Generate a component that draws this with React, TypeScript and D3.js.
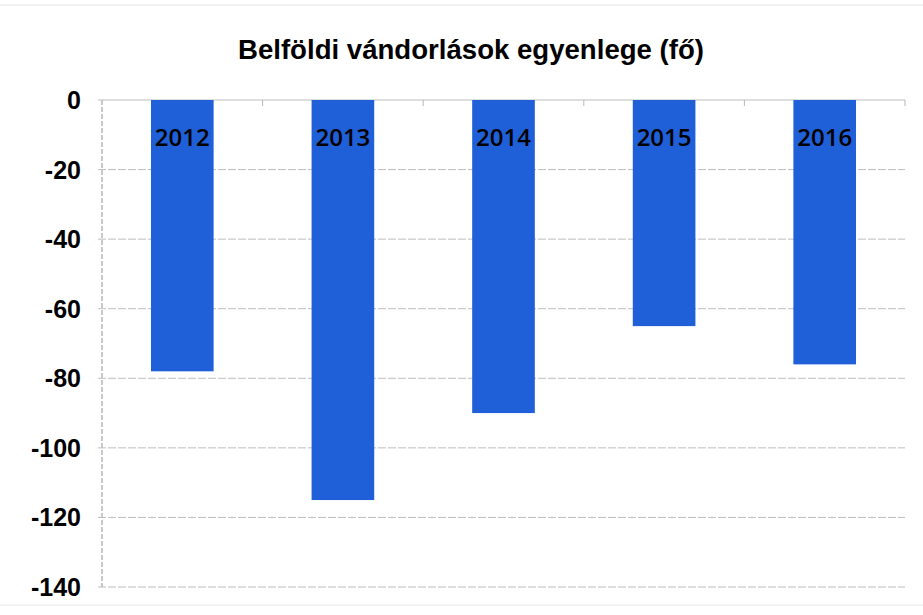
import React from "react";
import * as d3 from "d3";

const categories = ["2012", "2013", "2014", "2015", "2016"];
const values = [-78, -115, -90, -65, -76];
const yTicks = [0, -20, -40, -60, -80, -100, -120, -140];
const title = "Belföldi vándorlások egyenlege (fő)";

export default function App() {
  const W = 923, H = 615;
  const left = 102, right = 905, top = 100, bottom = 587;
  const x = d3.scaleBand<string>().domain(categories).range([left, right]).paddingInner(0.61).paddingOuter(0.305);
  const y = d3.scaleLinear().domain([0, -140]).range([top, bottom]);
  const step = x.step();
  const font = "'Open Sans', 'Liberation Sans', sans-serif";
  return (
    <svg width={W} height={H} style={{ position: "absolute", left: 0, top: 0, background: "#fff" }}>
      <line x1={0} x2={W} y1={5} y2={5} stroke="#e2e2e2" strokeWidth={1} />
      <line x1={0} x2={W} y1={605} y2={605} stroke="#e8e8e8" strokeWidth={1} />
      <text x={471} y={59} textAnchor="middle" fontFamily="'Liberation Sans', sans-serif" fontWeight="bold" fontSize={27} fill="#000" textLength={466} lengthAdjust="spacingAndGlyphs">{title}</text>
      {yTicks.map((t) => (
        <g key={t}>
          <line x1={left - 4} x2={right} y1={y(t)} y2={y(t)} stroke="#bdbdbd" strokeWidth={1} strokeDasharray={t === 0 ? "none" : "8 2"} />
          <text x={81} y={y(t)} dy="0.36em" textAnchor="end" fontFamily="'Liberation Sans', sans-serif" fontWeight="bold" fontSize={25} fill="#000">{t}</text>
        </g>
      ))}
      <line x1={left} x2={left} y1={top} y2={bottom} stroke="#b8b8b8" strokeWidth={1.5} strokeDasharray="5 2" />
      {categories.slice(1).map((c) => (
        <line key={c} x1={x(c)! - (step - x.bandwidth()) / 2} x2={x(c)! - (step - x.bandwidth()) / 2} y1={top} y2={top + 6} stroke="#b8b8b8" />
      ))}
      <line x1={right} x2={right} y1={top} y2={top + 6} stroke="#b8b8b8" />
      {categories.map((c, i) => (
        <g key={c}>
          <rect x={x(c)} y={y(0)} width={x.bandwidth()} height={y(values[i]) - y(0)} fill="#1f5fd8" />
          <text x={x(c)! + x.bandwidth() / 2} y={y(0) + 46} textAnchor="middle" fontFamily={font} fontWeight={600} fontSize={24} fill="#000">{c}</text>
        </g>
      ))}
    </svg>
  );
}
